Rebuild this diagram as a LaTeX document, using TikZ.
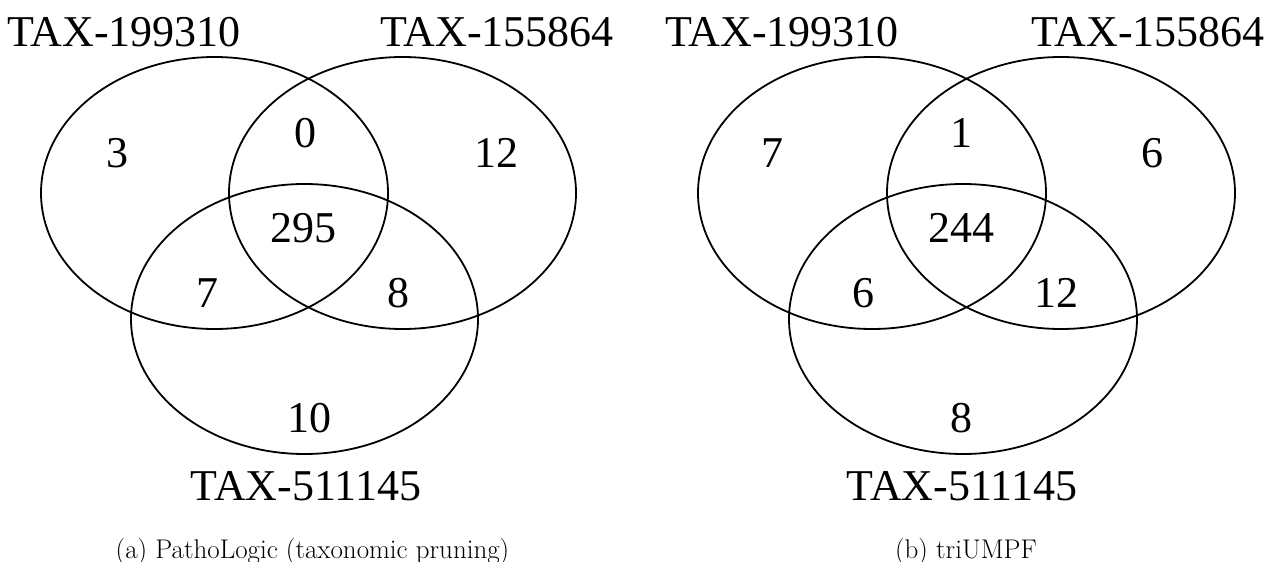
\documentclass[tikz,border=0pt]{standalone}
\usepackage{fontspec}
\usepackage{tikz}
\usetikzlibrary{positioning}
\newfontfamily\vennfont{Liberation Serif}

\begin{document}
\begin{tikzpicture}[x=1pt, y=-1pt,
        set/.style={draw, line width=1.8pt},
        count/.style={font=\vennfont\fontsize{44}{48}\selectfont, inner sep=0pt},
        setlabel/.style={font=\vennfont\fontsize{44}{48}\selectfont, inner sep=0pt},
        subcap/.style={font=\fontsize{27}{30}\selectfont, inner sep=0pt}]
        \useasboundingbox (0,0) rectangle (1267,562);

        % (a) PathoLogic
        \coordinate (a1) at (214.5,193);
        \coordinate (a2) at (402.5,193);
        \coordinate (a3) at (304.5,319);
        \draw[set] (a1) ellipse [x radius=173.5, y radius=136];
        \draw[set] (a2) ellipse [x radius=173.5, y radius=136];
        \draw[set] (a3) ellipse [x radius=173.5, y radius=135];

        \node[setlabel] (la1) at (124,32) {TAX-199310};
        \node[setlabel] (la2) at (497,32) {TAX-155864};
        \node[setlabel] (la3) at (306,486) {TAX-511145};

        \node[count] (na1)   at (117,153) {3};
        \node[count] (na12)  at (305,133) {0};
        \node[count] (na2)   at (496,153) {12};
        \node[count] (na123) at (303,228) {295};
        \node[count] (na13)  at (207,293) {7};
        \node[count] (na23)  at (398,293) {8};
        \node[count] (na3)   at (309,418) {10};

        \node[subcap] (capa) at (312.5,552) {(a) PathoLogic (taxonomic pruning)};

        % (b) triUMPF
        \coordinate (b1) at (872,193);
        \coordinate (b2) at (1061,193);
        \coordinate (b3) at (963,319);
        \draw[set] (b1) ellipse [x radius=174, y radius=136];
        \draw[set] (b2) ellipse [x radius=174, y radius=136];
        \draw[set] (b3) ellipse [x radius=174, y radius=135];

        \node[setlabel] (lb1) at (782,32) {TAX-199310};
        \node[setlabel] (lb2) at (1148,32) {TAX-155864};
        \node[setlabel] (lb3) at (962,486) {TAX-511145};

        \node[count] (nb1)   at (772,153) {7};
        \node[count] (nb12)  at (961,133) {1};
        \node[count] (nb2)   at (1152,153) {6};
        \node[count] (nb123) at (961,228) {244};
        \node[count] (nb13)  at (863,293) {6};
        \node[count] (nb23)  at (1056,293) {12};
        \node[count] (nb3)   at (961,418) {8};

        \node[subcap] (capb) at (966,552) {(b) triUMPF};
\end{tikzpicture}
\end{document}
